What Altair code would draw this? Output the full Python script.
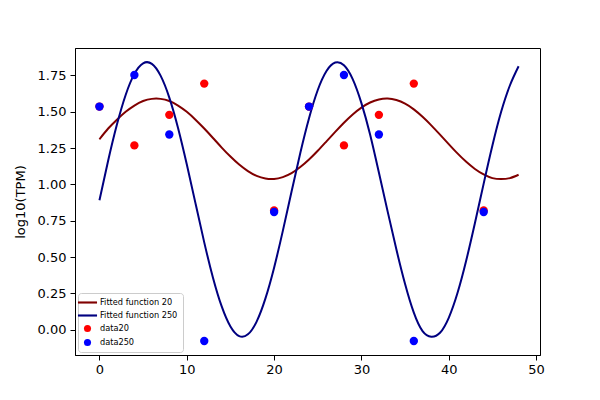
import altair as alt
import pandas as pd

# fitted curves at 1-hour steps
fit_hours = list(range(0, 49))
fit20 = [1.31, 1.384, 1.445, 1.499, 1.542, 1.573, 1.588, 1.588, 1.573, 1.542,
         1.499, 1.445, 1.384, 1.319, 1.253, 1.191, 1.136, 1.091, 1.058, 1.040,
         1.037, 1.050, 1.077, 1.119, 1.171, 1.231, 1.296, 1.361, 1.424, 1.481,
         1.528, 1.563, 1.584, 1.590, 1.580, 1.555, 1.516, 1.465, 1.406, 1.342,
         1.277, 1.213, 1.155, 1.106, 1.068, 1.043, 1.036, 1.043, 1.066]
fit250 = [0.89, 1.164, 1.411, 1.615, 1.760, 1.833, 1.829, 1.748, 1.597, 1.388,
          1.138, 0.869, 0.601, 0.358, 0.160, 0.022, -0.044, -0.032, 0.056, 0.214,
          0.427, 0.680, 0.951, 1.216, 1.455, 1.649, 1.780, 1.838, 1.819, 1.724,
          1.559, 1.341, 1.081, 0.814, 0.553, 0.314, 0.117, -0.010, -0.048, -0.021,
          0.082, 0.252, 0.476, 0.734, 1.005, 1.267, 1.499, 1.680, 1.812]

# measured data
data_hours = [0, 4, 8, 12, 20, 24, 28, 32, 36, 44]
data20 = [1.535, 1.268, 1.478, 1.693, 0.82, 1.535, 1.268, 1.478, 1.693, 0.82]
data250 = [1.535, 1.752, 1.343, -0.078, 0.81, 1.535, 1.752, 1.343, -0.078, 0.81]

series_names = ["Fitted function 20", "Fitted function 250", "data20", "data250"]
series_colors = ["#800000", "#000080", "#ff0000", "#0000ff"]

fit_df = pd.DataFrame({"t": fit_hours, "y20": fit20, "y250": fit250})
pts_df = pd.DataFrame({
    "t": data_hours + data_hours,
    "y": data20 + data250,
    "series": ["data20"] * len(data20) + ["data250"] * len(data250),
})

xscale = alt.Scale(domain=[-2.8, 50.45], nice=False, zero=False)
yscale = alt.Scale(domain=[-0.174, 1.938], nice=False, zero=False)

xaxis = alt.Axis(values=[0, 10, 20, 30, 40, 50], title=None, grid=False,
                 labelFontSize=13, tickSize=5, labelPadding=3)
yaxis = alt.Axis(values=[0, 0.25, 0.5, 0.75, 1.0, 1.25, 1.5, 1.75], format=".2f",
                 title="log10(TPM)", grid=False, labelFontSize=13, tickSize=5,
                 labelPadding=4, titleFontSize=13, titleFontWeight="normal",
                 titlePadding=10)

base = alt.Chart(fit_df)
line20 = base.mark_line(color="#800000", strokeWidth=2, interpolate="natural").encode(
    x=alt.X("t:Q", scale=xscale, axis=xaxis),
    y=alt.Y("y20:Q", scale=yscale, axis=yaxis),
)
line250 = base.mark_line(color="#000080", strokeWidth=2, interpolate="natural").encode(
    x=alt.X("t:Q", scale=xscale),
    y=alt.Y("y250:Q", scale=yscale),
)

line_shape = "M-2.7,-0.3H2.7V0.3H-2.7Z"
points = alt.Chart(pts_df).mark_point(filled=True, opacity=1, size=70).encode(
    x=alt.X("t:Q", scale=xscale),
    y=alt.Y("y:Q", scale=yscale),
    color=alt.Color("series:N", scale=alt.Scale(domain=series_names, range=series_colors),
                    legend=alt.Legend(title=None, orient="bottom-left", offset=3,
                                      labelFontSize=8.2, symbolSize=50,
                                      rowPadding=4, padding=5,
                                      fillColor="white", strokeColor="#cccccc",
                                      cornerRadius=3, labelOffset=8)),
    shape=alt.Shape("series:N", scale=alt.Scale(domain=series_names,
                    range=[line_shape, line_shape, "circle", "circle"]), legend=alt.Legend(title=None)),
)

chart = alt.layer(line20, line250, points).properties(
    width=465, height=307,
    autosize=alt.AutoSizeParams(type="none"),
    padding={"left": 67, "top": 40, "right": 52, "bottom": 37},
).configure_view(stroke="black", strokeWidth=1).configure_axis(
    labelFont="DejaVu Sans", titleFont="DejaVu Sans", labelColor="black",
    titleColor="black", domainColor="black", tickColor="black",
).configure_legend(labelFont="DejaVu Sans", labelColor="black")

chart.save("out.html", embed_options={"renderer": "svg", "actions": False})
